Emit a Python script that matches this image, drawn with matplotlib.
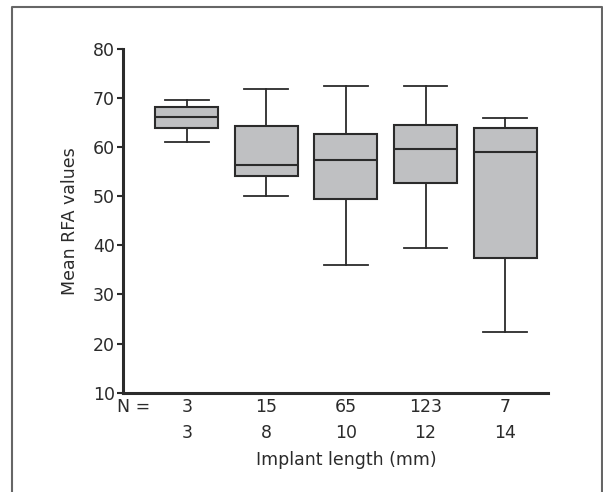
import matplotlib
matplotlib.use("Agg")
import matplotlib.pyplot as plt
from matplotlib.lines import Line2D
from matplotlib.transforms import blended_transform_factory

# values
lengths = [3, 8, 10, 12, 14]
counts = [3, 15, 65, 123, 7]
whislo = [61.0, 50.1, 36.0, 39.4, 22.4]
q1 = [64.0, 54.2, 49.4, 52.8, 37.5]
med = [66.1, 56.4, 57.4, 59.7, 59.0]
q3 = [68.2, 64.4, 62.7, 64.6, 63.9]
whishi = [69.7, 71.9, 72.4, 72.5, 65.9]
yticks = [10, 20, 30, 40, 50, 60, 70, 80]

plt.rcParams['font.family'] = ['DejaVu Sans']
fs = 12.5
dark = '#2b2b2b'

fig = plt.figure(figsize=(6.03, 4.92), dpi=100)
ax = fig.add_axes([0.204, 0.202, 0.705, 0.698])

stats = []
for i in range(len(lengths)):
    stats.append(dict(whislo=whislo[i], q1=q1[i], med=med[i], q3=q3[i],
                      whishi=whishi[i], fliers=[], label=str(lengths[i])))

pos = list(range(1, len(lengths) + 1))
ax.bxp(stats, positions=pos, widths=0.79, patch_artist=True, showfliers=False,
       boxprops=dict(facecolor='#bfc0c2', edgecolor=dark, linewidth=1.5),
       medianprops=dict(color=dark, linewidth=1.5),
       whiskerprops=dict(color=dark, linewidth=1.3),
       capprops=dict(color=dark, linewidth=1.3),
       capwidths=0.55)

ax.set_xlim(0.2, 5.54)
ax.set_ylim(10, 80)
ax.set_yticks(yticks)
ax.tick_params(axis='y', direction='out', length=4, width=1.5, labelsize=fs,
               colors=dark, pad=2)
ax.tick_params(axis='x', length=0, labelbottom=False)
for s in ['top', 'right']:
    ax.spines[s].set_visible(False)
for s in ['left', 'bottom']:
    ax.spines[s].set_linewidth(2.2)
    ax.spines[s].set_color(dark)

ax.set_ylabel('Mean RFA values', fontsize=fs, color=dark, labelpad=10)

tr = blended_transform_factory(ax.transData, ax.transAxes)
for p, n, l in zip(pos, counts, lengths):
    ax.text(p, -0.042, str(n), transform=tr, ha='center', va='center',
            fontsize=fs, color=dark)
    ax.text(p, -0.118, str(l), transform=tr, ha='center', va='center',
            fontsize=fs, color=dark)
ax.text(0.33, -0.042, 'N =', transform=tr, ha='center', va='center',
        fontsize=fs, color=dark)
ax.text(3.0, -0.195, 'Implant length (mm)', transform=tr, ha='center',
        va='center', fontsize=fs, color=dark)

# grey frame around the figure, open at the bottom
W, H = 603, 492
frame = Line2D([12 / W, 12 / W, 601.5 / W, 601.5 / W],
               [0, 1 - 6.5 / H, 1 - 6.5 / H, 0],
               transform=fig.transFigure, color='#666666', linewidth=1.5)
fig.add_artist(frame)

fig.savefig('out.png', dpi=100)
